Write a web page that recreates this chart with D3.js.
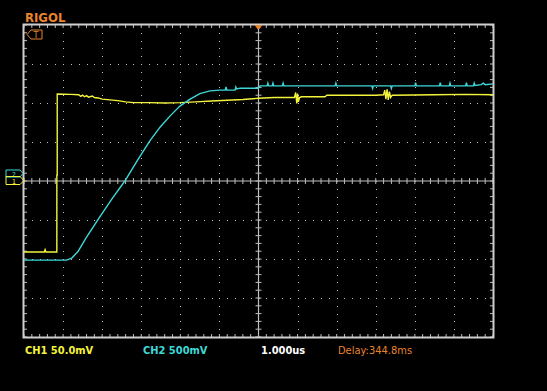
<!DOCTYPE html>
<html>
<head>
<meta charset="utf-8">
<title>RIGOL capture</title>
<script src="https://d3js.org/d3.v7.min.js"></script>
<style>
  html, body { margin: 0; padding: 0; background: #000; }
  svg { display: block; }
  text { font-family: "DejaVu Sans Condensed", "DejaVu Sans", sans-serif; }
</style>
</head>
<body>
<div id="scope"></div>
<script>
// horizontal: divisions from centre (1.000us/div), vertical: divisions from centre
var divX = d3.range(-6, 7);
var divY = d3.range(-4, 5);

// CH1 (yellow, 50.0mV/div) - time in div, level in div
var ch1Time  = [-6.00, -5.48, -5.46, -5.44, -5.16, -5.16, -5.15, -5.15, -4.80, -4.60, -4.55, -4.50, -4.45, -4.40, -4.35,
                -4.25, -4.20, -4.10, -4.00, -3.80, -3.60, -3.40, -3.20, -2.80, -2.40, -2.00, -1.60, -1.20, -0.80, -0.40,
                 0.00,  0.40,  0.80,  0.92,  0.95,  0.98,  1.00,  1.02,  1.05,  1.10,  1.70,  1.75,  3.00,  3.20,  3.23,
                 3.26,  3.29,  3.32,  3.35,  3.38,  3.42,  4.50,  5.30,  6.00];
var ch1Level = [-1.82, -1.82, -1.76, -1.82, -1.82,  0.15,  0.15,  2.23,  2.22,  2.21,  2.17,  2.20,  2.16,  2.19,  2.15,
                 2.18,  2.14,  2.13,  2.10,  2.08,  2.06,  2.03,  2.01,  2.01,  2.00,  2.01,  2.03,  2.05,  2.07,  2.09,
                 2.12,  2.14,  2.14,  2.14,  2.27,  1.99,  2.24,  2.03,  2.14,  2.16,  2.16,  2.20,  2.20,  2.21,  2.33,
                 2.10,  2.35,  2.08,  2.29,  2.14,  2.20,  2.21,  2.22,  2.21];

// CH2 (cyan, 500mV/div)
var ch2Time  = [-6.00, -4.91, -4.77, -4.62, -4.40, -4.06, -3.75, -3.42, -3.09, -2.78, -2.52, -2.26, -2.01, -1.75, -1.50,
                -1.24, -0.99, -0.85, -0.83, -0.81, -0.60, -0.58, -0.56, -0.47, -0.01,  0.04,  0.22,  0.24,  0.26,  0.35,
                 0.37,  0.39,  0.61,  0.63,  0.65,  1.96,  1.98,  2.00,  2.90,  2.92,  2.94,  3.38,  3.40,  3.42,  4.00,
                 4.02,  4.04,  4.63,  4.65,  4.67,  4.88,  4.90,  4.92,  5.30,  5.32,  5.34,  5.50,  5.52,  5.54,  5.70,
                 5.75,  5.80,  6.00];
var ch2Level = [-2.03, -2.03, -1.97, -1.81, -1.44, -0.92, -0.46,  0.00,  0.54,  1.03,  1.38,  1.67,  1.92,  2.10,  2.24,
                 2.31,  2.33,  2.33,  2.41,  2.33,  2.33,  2.41,  2.36,  2.38,  2.38,  2.44,  2.44,  2.51,  2.44,  2.44,
                 2.51,  2.44,  2.44,  2.51,  2.44,  2.44,  2.51,  2.44,  2.44,  2.37,  2.44,  2.44,  2.37,  2.44,  2.44,
                 2.52,  2.44,  2.44,  2.52,  2.44,  2.44,  2.51,  2.44,  2.44,  2.52,  2.44,  2.44,  2.51,  2.45,  2.47,
                 2.51,  2.47,  2.49];

var statusText  = ["CH1 50.0mV", "CH2 500mV", "1.000us", "Delay:344.8ms"];
var statusColor = ["#f4f43c", "#3ed8d8", "#ffffff", "#e8842c"];

var width = 547, height = 391;
var gridCol = "#bdbdbd", orange = "#e8842c";

var svg = d3.select("#scope").append("svg")
  .attr("width", width).attr("height", height)
  .style("background", "#000");

var x = d3.scaleLinear().domain([-6, 6]).range([24, 493]);
var y = d3.scaleLinear().domain([-4, 4]).range([337, 25]);

var minorX = d3.range(-30, 31).map(function(i) { return i / 5; });
var minorY = d3.range(-20, 21).map(function(i) { return i / 5; });

var grid = svg.append("g");

// dotted grid lines at each division
divX.filter(function(d) { return d != 0 && Math.abs(d) != 6; }).forEach(function(dx) {
  grid.selectAll(null).data(minorY.filter(function(v) { return Math.abs(v) < 4; })).enter()
    .append("rect").attr("x", Math.round(x(dx))).attr("y", function(v) { return Math.round(y(v)); })
    .attr("width", 1).attr("height", 1).attr("fill", gridCol);
});
divY.filter(function(d) { return d != 0 && Math.abs(d) != 4; }).forEach(function(dy) {
  grid.selectAll(null).data(minorX.filter(function(v) { return Math.abs(v) < 6; })).enter()
    .append("rect").attr("x", function(v) { return Math.round(x(v)); }).attr("y", Math.round(y(dy)))
    .attr("width", 1).attr("height", 1).attr("fill", gridCol);
});

// centre cross with ticks
grid.append("line").attr("x1", x(0)).attr("x2", x(0)).attr("y1", y(4)).attr("y2", y(-4))
  .attr("stroke", gridCol).attr("stroke-width", 1.2);
grid.append("line").attr("x1", x(-6)).attr("x2", x(6)).attr("y1", y(0)).attr("y2", y(0))
  .attr("stroke", gridCol).attr("stroke-width", 1.2);
grid.selectAll(null).data(minorX).enter().append("line")
  .attr("x1", x).attr("x2", x).attr("y1", y(0) - 3).attr("y2", y(0) + 3)
  .attr("stroke", gridCol).attr("stroke-width", 1);
grid.selectAll(null).data(minorY).enter().append("line")
  .attr("y1", y).attr("y2", y).attr("x1", x(0) - 3).attr("x2", x(0) + 3)
  .attr("stroke", gridCol).attr("stroke-width", 1);

// frame ticks
grid.selectAll(null).data(minorX).enter().append("line")
  .attr("x1", x).attr("x2", x).attr("y1", y(4)).attr("y2", y(4) + 3)
  .attr("stroke", gridCol).attr("stroke-width", 1);
grid.selectAll(null).data(minorX).enter().append("line")
  .attr("x1", x).attr("x2", x).attr("y1", y(-4)).attr("y2", y(-4) - 3)
  .attr("stroke", gridCol).attr("stroke-width", 1);
grid.selectAll(null).data(minorY).enter().append("line")
  .attr("y1", y).attr("y2", y).attr("x1", x(-6)).attr("x2", x(-6) + 3)
  .attr("stroke", gridCol).attr("stroke-width", 1);
grid.selectAll(null).data(minorY).enter().append("line")
  .attr("y1", y).attr("y2", y).attr("x1", x(6)).attr("x2", x(6) - 3)
  .attr("stroke", gridCol).attr("stroke-width", 1);

// frame
grid.append("rect").attr("x", x(-6) - 0.5).attr("y", y(4) - 0.5)
  .attr("width", x(6) - x(-6) + 1).attr("height", y(-4) - y(4) + 1)
  .attr("fill", "none").attr("stroke", "#cfcfcf").attr("stroke-width", 2);

// traces
var line = d3.line().x(function(d) { return x(d[0]); }).y(function(d) { return y(d[1]); });
var ch1 = ch1Time.map(function(t, i) { return [t, ch1Level[i]]; });
var ch2 = ch2Time.map(function(t, i) { return [t, ch2Level[i]]; });

svg.append("path").datum(ch1).attr("d", line)
  .attr("fill", "none").attr("stroke", "#f4f43c").attr("stroke-width", 1.4);
svg.append("path").datum(ch2).attr("d", line)
  .attr("fill", "none").attr("stroke", "#3ed8d8").attr("stroke-width", 1.4);

// brand
svg.append("text").attr("x", 25).attr("y", 22).text("RIGOL")
  .attr("fill", orange).attr("font-size", 13).attr("font-weight", "bold");

// trigger level marker
var trig = svg.append("g").attr("transform", "translate(27,30)");
trig.append("path").attr("d", "M0,4.5 L4,0 L15,0 L15,9 L4,9 Z")
  .attr("fill", "none").attr("stroke", orange).attr("stroke-width", 1);
trig.append("text").attr("x", 9).attr("y", 8).attr("text-anchor", "middle")
  .attr("font-size", 9).attr("fill", orange).text("T");

// trigger position marker
svg.append("path").attr("d", "M" + (x(0) - 4) + ",25 L" + (x(0) + 4) + ",25 L" + (x(0) + 1) + ",29 L" + (x(0) - 1) + ",29 Z")
  .attr("fill", orange);

// channel ground markers
var m2 = svg.append("g").attr("transform", "translate(6,170)");
m2.append("path").attr("d", "M0,0 L14,0 L17,3.5 L14,7 L0,7 Z")
  .attr("fill", "none").attr("stroke", "#3ed8d8").attr("stroke-width", 1);
m2.append("text").attr("x", 8).attr("y", 6.5).attr("text-anchor", "middle")
  .attr("font-size", 7).attr("fill", "#3ed8d8").text("2");
var m1 = svg.append("g").attr("transform", "translate(6,176.5)");
m1.append("path").attr("d", "M0,0 L14,0 L18,4 L14,8 L0,8 Z")
  .attr("fill", "none").attr("stroke", "#f4f43c").attr("stroke-width", 1);
m1.append("text").attr("x", 8).attr("y", 7).attr("text-anchor", "middle")
  .attr("font-size", 7).attr("fill", "#f4f43c").text("1");

// status line
var statusX = [25, 143, 261, 338];
svg.selectAll(null).data(statusText).enter().append("text")
  .attr("x", function(d, i) { return statusX[i]; })
  .attr("y", 354)
  .attr("fill", function(d, i) { return statusColor[i]; })
  .attr("font-size", 11)
  .attr("font-weight", function(d, i) { return i < 3 ? "bold" : "normal"; })
  .text(function(d) { return d; });
</script>
</body>
</html>
